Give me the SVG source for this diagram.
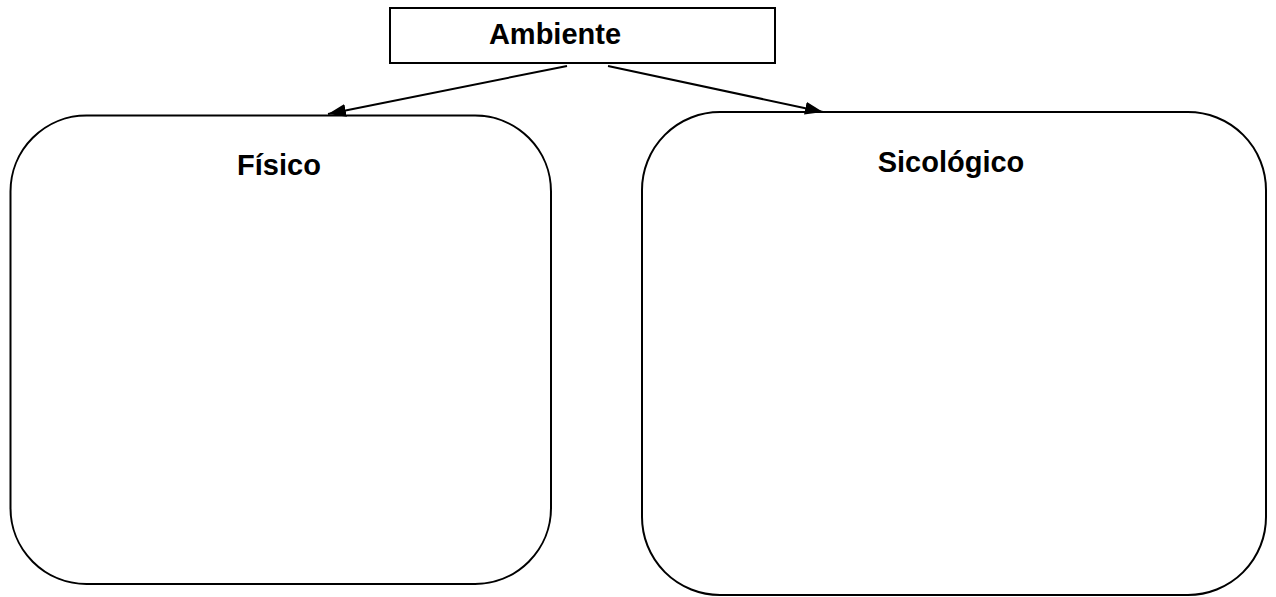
<svg xmlns="http://www.w3.org/2000/svg" width="1276" height="597" viewBox="0 0 1276 597">
<style>
.box{fill:#fff;stroke:#000;stroke-width:2}
.lbl{font-family:"Liberation Sans",Arial,sans-serif;font-weight:bold;font-size:29px;fill:#000;text-anchor:middle}
.conn{stroke:#000;stroke-width:2;fill:none;marker-end:url(#ah)}
</style>
<defs>
<marker id="ah" viewBox="0 0 10 10" refX="10" refY="5" markerWidth="18" markerHeight="13" markerUnits="userSpaceOnUse" orient="auto" preserveAspectRatio="none">
<path d="M0,0 L10,5 L0,10 z" fill="#000"/>
</marker>
</defs>
<rect width="1276" height="597" fill="#fff"/>
<g id="ambiente">
<rect class="box" x="390" y="8" width="385" height="55"/>
<text class="lbl" x="555" y="44">Ambiente</text>
</g>
<g id="fisico">
<rect class="box" x="10.5" y="115.5" width="540.5" height="468.5" rx="76" ry="76"/>
<text class="lbl" x="279" y="175">Físico</text>
</g>
<g id="sicologico">
<rect class="box" x="642" y="112" width="624" height="483" rx="78" ry="78"/>
<text class="lbl" x="951" y="172">Sicológico</text>
</g>
<g id="connectors">
<line class="conn" x1="567" y1="66" x2="328" y2="114"/>
<line class="conn" x1="608" y1="66" x2="823" y2="112"/>
</g>
</svg>
